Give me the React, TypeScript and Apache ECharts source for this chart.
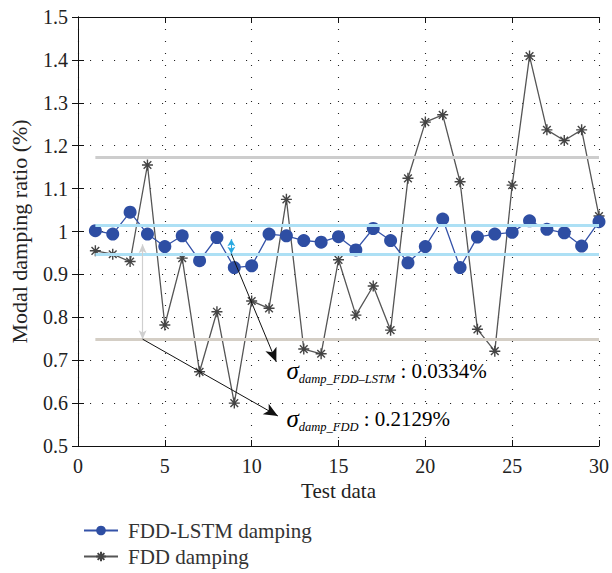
import React, { useEffect, useRef } from "react";
import * as echarts from "echarts";

// Test sample index
const testData = [1, 2, 3, 4, 5, 6, 7, 8, 9, 10, 11, 12, 13, 14, 15, 16, 17, 18, 19, 20, 21, 22, 23, 24, 25, 26, 27, 28, 29, 30];

// Modal damping ratio (%) identified by each method
const fddLstm = [1.002, 0.994, 1.045, 0.994, 0.965, 0.990, 0.932, 0.986, 0.916, 0.920, 0.994, 0.990, 0.979, 0.975, 0.988, 0.957, 1.007, 0.979, 0.927, 0.965, 1.029, 0.916, 0.987, 0.994, 0.998, 1.025, 1.005, 0.997, 0.966, 1.023];
const fdd = [0.955, 0.947, 0.930, 1.155, 0.782, 0.938, 0.673, 0.813, 0.600, 0.838, 0.821, 1.075, 0.726, 0.715, 0.934, 0.805, 0.873, 0.770, 1.124, 1.255, 1.272, 1.116, 0.772, 0.721, 1.108, 1.409, 1.237, 1.212, 1.237, 1.036];

// Upper / lower bands (mean ± sigma)
const fddBand = [1.174, 0.749];
const lstmBand = [1.015, 0.948];

// Tick labels
const xTicks = [0, 5, 10, 15, 20, 25, 30];
const yTicks = [0.5, 0.6, 0.7, 0.8, 0.9, 1, 1.1, 1.2, 1.3, 1.4, 1.5];

// Spread markers and annotation anchors (data coordinates)
const lstmSpreadX = 8.83;
const fddSpreadX = 3.72;
const lstmArrowEnd = [11.42, 0.696];
const fddArrowEnd = [11.51, 0.57];
const lstmLabelAt = [12.0, 0.675];
const fddLabelAt = [12.0, 0.564];
const sigmaLstm = "0.0334%";
const sigmaFdd = "0.2129%";

const SERIF = "'Liberation Serif', 'DejaVu Serif', serif";
const STAR = "path://M0,5L10,5M5,0L5,10M1.5,1.5L8.5,8.5M1.5,8.5L8.5,1.5";

export default function App() {
  const ref = useRef<HTMLDivElement>(null);

  useEffect(() => {
    if (!ref.current) return;
    const chart = echarts.init(ref.current, null, { renderer: "svg" });

    const dotted = { color: "#222", width: 1.1, type: [1.1, 10.9] as any };
    const axisLine = { show: true, lineStyle: { color: "#111", width: 1 } };
    const xMin = xTicks[0];
    const xMax = xTicks[xTicks.length - 1];
    const yMin = yTicks[0];
    const yMax = yTicks[yTicks.length - 1];

    const hLine = (y: number, color: string) => [
      { coord: [testData[0], y], symbol: "none", lineStyle: { color, width: 3, type: "solid" } },
      { coord: [testData[testData.length - 1], y], symbol: "none" },
    ];
    const arrow = (a: number[], b: number[], color: string, s0: string, s1: string, size: any, width = 1) => [
      { coord: a, symbol: s0, symbolSize: size, lineStyle: { color, width, type: "solid" }, itemStyle: { color } },
      { coord: b, symbol: s1, symbolSize: size, itemStyle: { color } },
    ];

    chart.setOption({
      animation: false,
      grid: { left: 78, right: 12, top: 17, bottom: 127 },
      legend: {
        orient: "vertical",
        left: 78,
        top: 515,
        height: 70,
        itemWidth: 34,
        itemHeight: 12,
        itemGap: 5,
        textStyle: { fontFamily: SERIF, fontSize: 21, color: "#333", padding: [0, 0, 0, 5], lineHeight: 21 },
        data: ["FDD-LSTM damping", "FDD damping"],
      },
      xAxis: [
        {
          type: "value",
          min: xMin,
          max: xMax,
          interval: 5,
          name: "Test data",
          nameLocation: "middle",
          nameGap: 34,
          nameTextStyle: { fontFamily: SERIF, fontSize: 21, color: "#222" },
          axisLine,
          axisTick: { show: true, inside: true, length: 6, lineStyle: { color: "#111" } },
          axisLabel: { fontFamily: SERIF, fontSize: 20, color: "#222", margin: 10 },
          splitLine: { show: true, lineStyle: dotted },
        },
        {
          type: "value",
          position: "top",
          min: xMin,
          max: xMax,
          interval: 5,
          axisLine,
          axisTick: { show: true, inside: true, length: 6, lineStyle: { color: "#111" } },
          axisLabel: { show: false },
          splitLine: { show: false },
        },
      ],
      yAxis: [
        {
          type: "value",
          min: yMin,
          max: yMax,
          interval: 0.1,
          name: "Modal damping ratio (%)",
          nameLocation: "middle",
          nameGap: 48,
          nameTextStyle: { fontFamily: SERIF, fontSize: 22, color: "#222" },
          axisLine,
          axisTick: { show: true, inside: true, length: 6, lineStyle: { color: "#111" } },
          axisLabel: {
            fontFamily: SERIF,
            fontSize: 20,
            color: "#222",
            margin: 10,
            formatter: (v: number) => String(parseFloat(v.toFixed(2))),
          },
          splitLine: { show: true, lineStyle: dotted },
        },
        {
          type: "value",
          position: "right",
          min: yMin,
          max: yMax,
          interval: 0.1,
          axisLine,
          axisTick: { show: true, inside: true, length: 6, lineStyle: { color: "#111" } },
          axisLabel: { show: false },
          splitLine: { show: false },
        },
      ],
      series: [
        {
          name: "FDD damping",
          type: "line",
          data: testData.map((x, i) => [x, fdd[i]]),
          symbol: STAR,
          symbolSize: 11,
          showAllSymbol: true,
          lineStyle: { color: "#555", width: 1.3 },
          itemStyle: { color: "#444", borderColor: "#444", borderWidth: 1.4 },
          z: 3,
          markLine: {
            silent: true,
            animation: false,
            label: { show: false },
            emphasis: { disabled: true },
            data: [
              hLine(fddBand[0], "#cdcdcd"),
              hLine(fddBand[1], "#d4cec5"),
              hLine(lstmBand[0], "#ade0f5"),
              hLine(lstmBand[1], "#ade0f5"),
            ],
          },
        },
        {
          name: "FDD-LSTM damping",
          type: "line",
          data: testData.map((x, i) => [x, fddLstm[i]]),
          symbol: "circle",
          symbolSize: 13,
          showAllSymbol: true,
          lineStyle: { color: "#3452a8", width: 1.3 },
          itemStyle: { color: "#2e4ea3" },
          z: 4,
          markLine: {
            silent: true,
            animation: false,
            label: { show: false },
            emphasis: { disabled: true },
            data: [
              arrow([lstmSpreadX, lstmBand[1]], [lstmSpreadX, 0.982], "#29a8e0", "arrow", "arrow", [6, 7], 1.2),
              arrow([fddSpreadX, 0.97], [fddSpreadX, fddBand[1]], "#cfcfcf", "arrow", "arrow", [6, 9], 1.2),
              arrow([lstmSpreadX, lstmBand[1]], lstmArrowEnd, "#111", "none", "arrow", [9, 14], 1),
              arrow([fddSpreadX, fddBand[1]], fddArrowEnd, "#111", "none", "arrow", [9, 14], 1),
            ],
          },
        },
      ],
    });

    const rich = {
      sig: { fontFamily: SERIF, fontSize: 25, fontStyle: "italic", color: "#222", lineHeight: 30, verticalAlign: "middle" },
      sub: { fontFamily: SERIF, fontSize: 12.5, fontStyle: "italic", color: "#222", lineHeight: 16, verticalAlign: "bottom" },
      val: { fontFamily: SERIF, fontSize: 21, color: "#222", lineHeight: 30, verticalAlign: "middle" },
    };
    const p1 = chart.convertToPixel({ xAxisIndex: 0, yAxisIndex: 0 }, lstmLabelAt);
    const p2 = chart.convertToPixel({ xAxisIndex: 0, yAxisIndex: 0 }, fddLabelAt);
    chart.setOption({
      graphic: [
        {
          type: "text",
          x: p1[0],
          y: p1[1],
          style: { text: `{sig|σ}{sub|damp_FDD–LSTM}{val| : ${sigmaLstm}}`, rich, verticalAlign: "middle" },
        },
        {
          type: "text",
          x: p2[0],
          y: p2[1],
          style: { text: `{sig|σ}{sub|damp_FDD}{val| : ${sigmaFdd}}`, rich, verticalAlign: "middle" },
        },
      ],
    });

    return () => chart.dispose();
  }, []);

  return <div ref={ref} style={{ position: "absolute", left: 0, top: 0, width: 612, height: 573 }} />;
}
